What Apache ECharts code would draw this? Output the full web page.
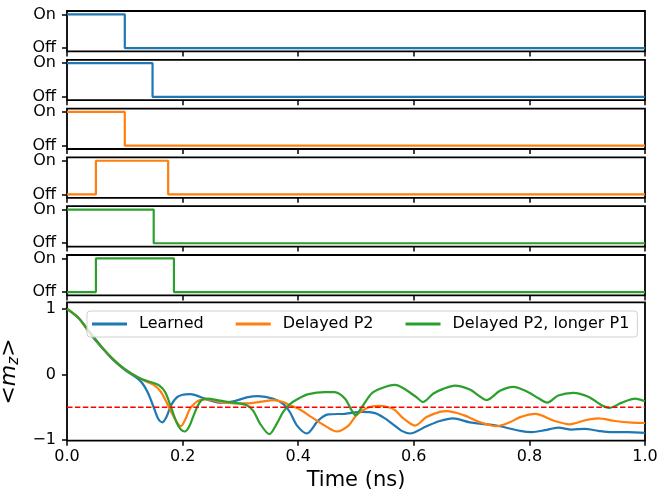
<!DOCTYPE html>
<html lang="en">
<head>
<meta charset="UTF-8">
<title>Pulse sequences and magnetisation</title>
<script src="https://cdn.jsdelivr.net/npm/echarts@6/dist/echarts.min.js"></script>
<style>
html, body { margin: 0; padding: 0; background: #fff; }
#main { width: 659px; height: 497px; }
</style>
</head>
<body>
<div id="main"></div>
<script>
// pulse panels: switch times and the state held from each time (1 = On)
const pulseTimes = [[0, 0.1, 1], [0, 0.148, 1], [0, 0.1, 1], [0, 0.05, 0.175, 1], [0, 0.15, 1], [0, 0.05, 0.185, 1]];
const pulseStates = [[1, 0, 0], [1, 0, 0], [1, 0, 0], [0, 1, 0, 0], [1, 0, 0], [0, 1, 0, 0]];
const pulseColorIdx = [0, 0, 1, 1, 2, 2];

const seriesNames = ['Learned', 'Delayed P2', 'Delayed P2, longer P1'];
const colors = ['#1f77b4', '#ff7f0e', '#2ca02c'];

// <m_z> curves
const learnedT = [0, 0.02, 0.04, 0.06, 0.08, 0.10, 0.12, 0.13, 0.14, 0.15, 0.158, 0.165, 0.172, 0.18, 0.19, 0.2, 0.213, 0.242, 0.265, 0.288, 0.311, 0.331, 0.357, 0.374, 0.386, 0.398, 0.415, 0.435, 0.452, 0.481, 0.51, 0.533, 0.55, 0.567, 0.579, 0.593, 0.622, 0.645, 0.668, 0.697, 0.726, 0.749, 0.784, 0.804, 0.827, 0.85, 0.873, 0.896, 0.919, 0.942, 0.97, 1.0];
const learnedY = [1.0, 0.86, 0.62, 0.41, 0.22, 0.07, -0.05, -0.13, -0.28, -0.50, -0.68, -0.73, -0.65, -0.47, -0.35, -0.31, -0.30, -0.38, -0.43, -0.41, -0.35, -0.33, -0.37, -0.45, -0.58, -0.78, -0.90, -0.70, -0.61, -0.60, -0.57, -0.59, -0.67, -0.78, -0.86, -0.90, -0.79, -0.71, -0.67, -0.73, -0.76, -0.79, -0.86, -0.88, -0.85, -0.81, -0.84, -0.83, -0.86, -0.88, -0.88, -0.89];

const delayedT = [0, 0.02, 0.04, 0.06, 0.08, 0.10, 0.12, 0.135, 0.15, 0.162, 0.172, 0.185, 0.197, 0.205, 0.213, 0.23, 0.242, 0.265, 0.288, 0.311, 0.34, 0.357, 0.374, 0.386, 0.40, 0.423, 0.446, 0.467, 0.487, 0.501, 0.521, 0.539, 0.556, 0.567, 0.582, 0.602, 0.622, 0.645, 0.657, 0.686, 0.715, 0.743, 0.766, 0.784, 0.81, 0.844, 0.87, 0.896, 0.919, 0.948, 0.977, 1.0];
const delayedY = [1.0, 0.86, 0.63, 0.42, 0.23, 0.08, -0.03, -0.10, -0.16, -0.26, -0.42, -0.65, -0.79, -0.68, -0.52, -0.39, -0.38, -0.42, -0.44, -0.44, -0.41, -0.39, -0.42, -0.47, -0.52, -0.65, -0.78, -0.87, -0.78, -0.62, -0.505, -0.48, -0.50, -0.54, -0.67, -0.78, -0.65, -0.57, -0.56, -0.62, -0.73, -0.79, -0.73, -0.65, -0.60, -0.71, -0.76, -0.70, -0.67, -0.71, -0.735, -0.74];

const longerT = [0, 0.02, 0.04, 0.06, 0.08, 0.10, 0.12, 0.135, 0.15, 0.16, 0.17, 0.18, 0.19, 0.197, 0.204, 0.211, 0.218, 0.226, 0.233, 0.242, 0.265, 0.288, 0.311, 0.322, 0.334, 0.35, 0.363, 0.374, 0.386, 0.40, 0.418, 0.446, 0.463, 0.481, 0.492, 0.499, 0.51, 0.527, 0.544, 0.567, 0.582, 0.605, 0.616, 0.634, 0.651, 0.671, 0.697, 0.715, 0.726, 0.749, 0.772, 0.798, 0.815, 0.831, 0.85, 0.876, 0.902, 0.925, 0.938, 0.96, 0.983, 1.0];
const longerY = [1.0, 0.86, 0.64, 0.42, 0.23, 0.08, -0.03, -0.09, -0.13, -0.17, -0.27, -0.50, -0.74, -0.84, -0.87, -0.80, -0.65, -0.48, -0.39, -0.37, -0.40, -0.43, -0.47, -0.55, -0.75, -0.91, -0.75, -0.57, -0.45, -0.37, -0.30, -0.27, -0.27, -0.37, -0.54, -0.62, -0.50, -0.29, -0.21, -0.16, -0.21, -0.35, -0.42, -0.29, -0.22, -0.17, -0.23, -0.34, -0.39, -0.25, -0.19, -0.27, -0.36, -0.43, -0.32, -0.28, -0.34, -0.47, -0.51, -0.43, -0.37, -0.41];

const thresholdT = [0, 1];
const thresholdY = [-0.5, -0.5];

const mzTicks = [-1, 0, 1];
const pulseTicks = [0, 1];

const font = 'DejaVu Sans';
const zip = (a, b) => a.map((v, i) => [v, b[i]]);
const minus = v => String(v).replace('-', '\u2212');
const tickStyle = { length: 5, lineStyle: { color: '#000', width: 1.5 } };

let grids = [], xAxes = [], yAxes = [], series = [];

for (let i = 0; i < 6; i++) {
	grids.push({ left: 67, width: 578, top: 11 + i * 48.8, height: 40.4, show: true, borderColor: '#000', borderWidth: 1.8, outerBoundsMode: 'none' });
	xAxes.push({
		gridIndex: i, type: 'value', min: 0, max: 1, interval: 0.2,
		axisLine: { show: false, onZero: false }, splitLine: { show: false },
		axisTick: tickStyle, axisLabel: { show: false }
	});
	yAxes.push({
		gridIndex: i, type: 'value', min: -0.1, max: 1.1,
		axisLine: { show: false, onZero: false }, splitLine: { show: false },
		axisTick: Object.assign({ customValues: pulseTicks }, tickStyle),
		axisLabel: { customValues: pulseTicks, margin: 11, color: '#000', fontSize: 16, fontFamily: font,
			formatter: v => (v === 1 ? 'On' : 'Off') }
	});
	series.push({
		name: 'pulse' + i, type: 'line', step: 'end', xAxisIndex: i, yAxisIndex: i,
		symbol: 'none', silent: true, color: colors[pulseColorIdx[i]],
		lineStyle: { width: 2.2 },
		data: zip(pulseTimes[i], pulseStates[i])
	});
}

// main panel
grids.push({ left: 67, width: 578, top: 302.3, height: 138.4, show: true, borderColor: '#000', borderWidth: 1.8, outerBoundsMode: 'none' });
xAxes.push({
	gridIndex: 6, type: 'value', min: 0, max: 1, interval: 0.2,
	name: 'Time (ns)', nameLocation: 'middle', nameGap: 29,
	nameTextStyle: { fontSize: 21, color: '#000', fontFamily: font },
	axisLine: { show: false, onZero: false }, splitLine: { show: false },
	axisTick: tickStyle,
	axisLabel: { margin: 8, color: '#000', fontSize: 16, fontFamily: font, formatter: v => v.toFixed(1) }
});
yAxes.push({
	gridIndex: 6, type: 'value', min: -1.01, max: 1.1,
	name: '<{i|m}{s|z}>', nameLocation: 'middle', nameGap: 38,
	nameTextStyle: { fontSize: 22, color: '#000', fontFamily: font,
		rich: { i: { fontSize: 22, fontStyle: 'italic', fontFamily: font },
			s: { fontSize: 15, fontStyle: 'italic', fontFamily: font, padding: [9, 0, 0, 0] } } },
	axisLine: { show: false, onZero: false }, splitLine: { show: false },
	axisTick: Object.assign({ customValues: mzTicks }, tickStyle),
	axisLabel: { customValues: mzTicks, margin: 11, color: '#000', fontSize: 16, fontFamily: font, formatter: minus }
});

const curves = [zip(learnedT, learnedY), zip(delayedT, delayedY), zip(longerT, longerY)];
curves.forEach((d, k) => {
	series.push({
		name: seriesNames[k], type: 'line', xAxisIndex: 6, yAxisIndex: 6,
		symbol: 'none', smooth: 0.3, color: colors[k],
		lineStyle: { width: 2.2 }, data: d
	});
});
series.push({
	name: 'threshold', type: 'line', xAxisIndex: 6, yAxisIndex: 6, symbol: 'none', silent: true,
	color: '#ff0000', lineStyle: { width: 1.5, type: [5.5, 2.4] }, data: zip(thresholdT, thresholdY)
});

let chart = echarts.init(document.getElementById('main'), null, { renderer: 'canvas' });
chart.setOption({
	animation: false,
	backgroundColor: '#fff',
	grid: grids,
	xAxis: xAxes,
	yAxis: yAxes,
	legend: {
		data: seriesNames, left: 87, top: 311, icon: 'rect', itemWidth: 35, itemHeight: 3, itemGap: 32,
		padding: [5, 8, 5, 5], borderColor: '#d0d0d0', borderWidth: 1, borderRadius: 3,
		backgroundColor: 'rgba(255,255,255,0.8)',
		textStyle: { fontSize: 16, color: '#000', fontFamily: font, padding: [0, 0, 0, 7] }
	},
	series: series
});
</script>
</body>
</html>
